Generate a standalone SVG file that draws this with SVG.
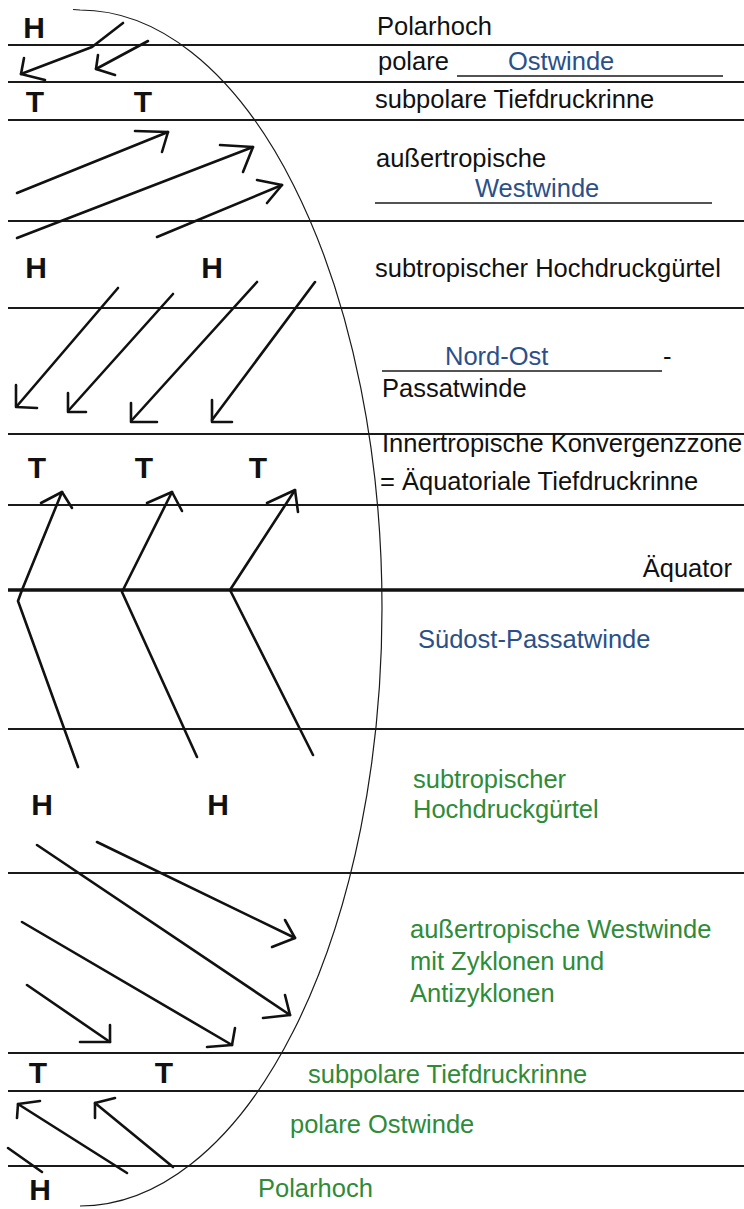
<svg xmlns="http://www.w3.org/2000/svg" width="744" height="1209" viewBox="0 0 744 1209">
<style>
.band{stroke:#1a1a1a;stroke-width:1.8;fill:none}
.eq{stroke:#111;stroke-width:3.5;fill:none}
.outline{stroke:#1a1a1a;stroke-width:1.2;fill:none}
.wind{stroke:#111;stroke-width:2.6;fill:none;stroke-linecap:round;stroke-linejoin:round}
.sym{font-family:"Liberation Sans",Arial,sans-serif;font-weight:bold;font-size:30px;fill:#111;text-anchor:middle}
.lbl{font-family:"Liberation Sans",Arial,sans-serif;font-size:25.5px;fill:#111}
.blue{fill:#2b5088}
.green{fill:#2e8b37}
.ul{stroke:#1a1a1a;stroke-width:1.6}
</style>
<rect width="744" height="1209" fill="#ffffff"/>
<g id="bands">
<line class="band" x1="8" y1="45" x2="744" y2="45"/>
<line class="band" x1="8" y1="82" x2="744" y2="82"/>
<line class="band" x1="8" y1="120" x2="744" y2="120"/>
<line class="band" x1="8" y1="221" x2="744" y2="221"/>
<line class="band" x1="8" y1="308" x2="744" y2="308"/>
<line class="band" x1="8" y1="434" x2="744" y2="434"/>
<line class="band" x1="8" y1="505" x2="744" y2="505"/>
<line class="eq" x1="8" y1="590" x2="744" y2="590"/>
<line class="band" x1="8" y1="729" x2="744" y2="729"/>
<line class="band" x1="8" y1="873" x2="744" y2="873"/>
<line class="band" x1="8" y1="1053" x2="744" y2="1053"/>
<line class="band" x1="8" y1="1091" x2="744" y2="1091"/>
<line class="band" x1="8" y1="1166" x2="744" y2="1166"/>
</g>
<g id="earth-outline">
<path class="outline" d="M73,9.5 Q77,9.8 80,10 A302,598 0 0 1 80,1206"/>
</g>
<g id="pressure-symbols">
<text class="sym" x="34" y="38">H</text>
<text class="sym" x="35" y="112">T</text>
<text class="sym" x="143" y="112">T</text>
<text class="sym" x="36" y="278">H</text>
<text class="sym" x="212" y="278">H</text>
<text class="sym" x="37" y="478">T</text>
<text class="sym" x="144" y="478">T</text>
<text class="sym" x="258" y="478">T</text>
<text class="sym" x="42" y="815">H</text>
<text class="sym" x="218" y="815">H</text>
<text class="sym" x="38" y="1083">T</text>
<text class="sym" x="164" y="1083">T</text>
<text class="sym" x="40" y="1200">H</text>
</g>
<g id="connectors">
<g id="polar-easterlies-north">
<polyline class="wind" points="123,23 92,47 21,74"/>
<polyline class="wind" points="24,58 21,74 45,80"/>
<polyline class="wind" points="148,41 96,69"/>
<polyline class="wind" points="98,55 96,69 115,75"/>
</g>
<g id="westerlies-north">
<polyline class="wind" points="17,193 168,132"/>
<polyline class="wind" points="135,131 168,132 162,152"/>
<polyline class="wind" points="17,238 253,147"/>
<polyline class="wind" points="220,145 253,147 243,172"/>
<polyline class="wind" points="157,237 282,185"/>
<polyline class="wind" points="257,180 282,185 267,203"/>
</g>
<g id="ne-trades">
<polyline class="wind" points="118,288 17,406"/>
<polyline class="wind" points="16,385 16,407 37,408"/>
<polyline class="wind" points="173,294 69,410"/>
<polyline class="wind" points="68,393 68,412 86,412"/>
<polyline class="wind" points="257,282 132,420"/>
<polyline class="wind" points="131,403 131,422 157,422"/>
<polyline class="wind" points="315,282 212,420"/>
<polyline class="wind" points="212,400 212,422 232,422"/>
</g>
<g id="se-trades">
<polyline class="wind" points="78,767 18,601 22,590 62,492"/>
<polyline class="wind" points="41,503 62,492 72,508"/>
<polyline class="wind" points="197,757 122,592 123,590 172,492"/>
<polyline class="wind" points="147,503 172,492 182,511"/>
<polyline class="wind" points="313,755 230,590 295,490"/>
<polyline class="wind" points="267,503 295,490 298,512"/>
</g>
<g id="westerlies-south">
<polyline class="wind" points="97,842 295,938"/>
<polyline class="wind" points="285,920 295,938 272,947"/>
<polyline class="wind" points="37,845 290,1015"/>
<polyline class="wind" points="285,995 290,1015 263,1018"/>
<polyline class="wind" points="22,922 232,1045"/>
<polyline class="wind" points="235,1028 232,1045 207,1047"/>
<polyline class="wind" points="27,985 110,1042"/>
<polyline class="wind" points="110,1025 110,1042 80,1042"/>
</g>
<g id="polar-easterlies-south">
<polyline class="wind" points="127,1173 18,1104"/>
<polyline class="wind" points="40,1101 18,1104 17,1118"/>
<polyline class="wind" points="173,1167 95,1103"/>
<polyline class="wind" points="115,1098 95,1103 95,1118"/>
<polyline class="wind" points="8,1148 42,1172"/>
</g>
</g>
<g id="labels-north">
<text class="lbl" x="377" y="35">Polarhoch</text>
<text class="lbl" x="378" y="70">polare</text>
<line class="ul" x1="457" y1="76" x2="723" y2="76"/>
<text class="lbl blue" x="508" y="70">Ostwinde</text>
<text class="lbl" x="375" y="108">subpolare Tiefdruckrinne</text>
<text class="lbl" x="376" y="167">außertropische</text>
<text class="lbl blue" x="475" y="197">Westwinde</text>
<line class="ul" x1="375" y1="203" x2="712" y2="203"/>
<text class="lbl" x="375" y="277">subtropischer Hochdruckgürtel</text>
<text class="lbl blue" x="445" y="365">Nord-Ost</text>
<line class="ul" x1="382" y1="371" x2="662" y2="371"/>
<text class="lbl" x="663" y="365">-</text>
<text class="lbl" x="382" y="397">Passatwinde</text>
<text class="lbl" x="382" y="452">Innertropische Konvergenzzone</text>
<text class="lbl" x="380" y="490">= Äquatoriale Tiefdruckrinne</text>
<text class="lbl" x="732" y="577" text-anchor="end">Äquator</text>
</g>
<g id="labels-south">
<text class="lbl blue" x="418" y="648">Südost-Passatwinde</text>
<text class="lbl green" x="413" y="788">subtropischer</text>
<text class="lbl green" x="413" y="818">Hochdruckgürtel</text>
<text class="lbl green" x="410" y="938">außertropische Westwinde</text>
<text class="lbl green" x="410" y="970">mit Zyklonen und</text>
<text class="lbl green" x="410" y="1002">Antizyklonen</text>
<text class="lbl green" x="308" y="1083">subpolare Tiefdruckrinne</text>
<text class="lbl green" x="290" y="1133">polare Ostwinde</text>
<text class="lbl green" x="258" y="1197">Polarhoch</text>
</g>
</svg>
